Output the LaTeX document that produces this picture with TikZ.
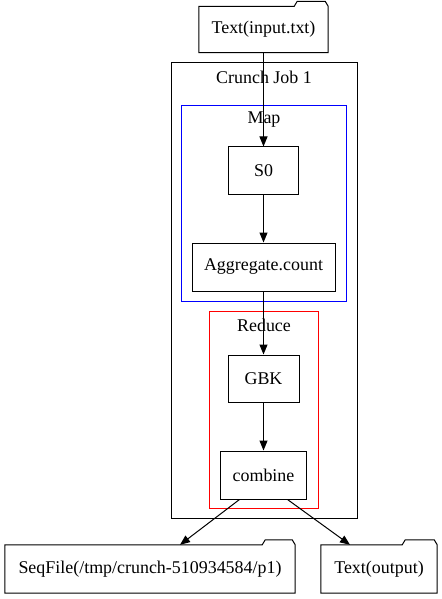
\documentclass[tikz,border=0pt]{standalone}
\usepackage{fontspec}
\setmainfont{Liberation Serif}
\usetikzlibrary{arrows.meta,positioning}

\begin{document}
\begin{tikzpicture}[
  x=1bp, y=-1bp,
  font=\fontsize{18}{20}\selectfont,
  box/.style={rectangle, draw, line width=1bp, minimum height=47bp, inner sep=0pt},
  folder/.style={rectangle, minimum height=46bp, inner sep=0pt},
  cluster/.style={rectangle, draw, line width=1bp, inner sep=0pt},
  lbl/.style={inner sep=0pt},
  arr/.style={-{Triangle[length=10bp,width=8bp]}, line width=1bp}
]
\useasboundingbox (0,0) rectangle (442,599);
% clusters
\node[cluster, minimum width=186bp, minimum height=455bp] (job) at (264,290.5) {};
\node[cluster, draw=blue, minimum width=165bp, minimum height=196bp] (map) at (264,203.5) {};
\node[cluster, draw=red, minimum width=109bp, minimum height=197bp] (reduce) at (264,409.5) {};
\node[lbl] (jobl) at ([yshift=-15bp]job.north) {Crunch Job 1};
\node[lbl] (mapl) at ([yshift=-15bp]map.north) {Map};
\node[lbl] (reducel) at ([yshift=-15bp]reduce.north) {Reduce};

% sources and targets
\node[folder, minimum width=129bp] (input) at (263.5,29.5) {Text(input.txt)};
\node[folder, minimum width=290bp, minimum height=48bp] (seq) at (150,569) {SeqFile(/tmp/crunch-510934584/p1)};
\node[folder, minimum width=116bp, minimum height=48bp] (txtout) at (379,569) {Text(output)};
\foreach \n/\t in {input/34, seq/33, txtout/35}{
  \draw[line width=1bp] (\n.south west) -- (\n.north west)
    -- ([xshift=-\t bp]\n.north east) -- ([xshift=-\t bp+3bp, yshift=5bp]\n.north east)
    -- ([xshift=-3bp, yshift=5bp]\n.north east) -- (\n.north east)
    -- (\n.south east) -- cycle;
}

% job nodes
\node[box, minimum width=70bp] (s0) at (263.5,170.5) {S0};
\node[box, minimum width=143bp, minimum height=48bp, below=48bp of s0] (agg) {Aggregate.count};
\node[box, minimum width=71bp, below=63bp of agg] (gbk) {GBK};
\node[box, minimum width=86bp, minimum height=48bp, below=48bp of gbk] (comb) {combine};

\draw[arr] (input) -- (s0);
\draw[arr] (s0) -- (agg);
\draw[arr] (agg) -- (gbk);
\draw[arr] (gbk) -- (comb);
\draw[arr] ([xshift=-24bp]comb.south) -- ([xshift=30bp]seq.north);
\draw[arr] ([xshift=24bp]comb.south) -- ([xshift=-29bp]txtout.north);
\end{tikzpicture}
\end{document}
